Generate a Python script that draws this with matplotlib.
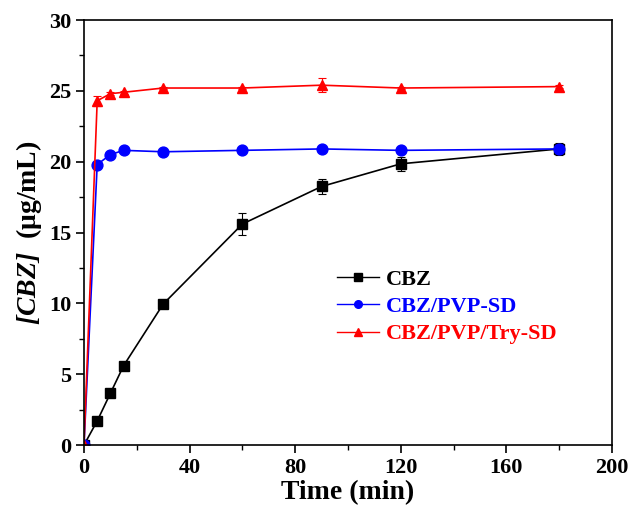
import matplotlib
matplotlib.use("Agg")
import matplotlib.pyplot as plt
from matplotlib.ticker import MultipleLocator
from matplotlib.lines import Line2D

plt.rcParams['font.family'] = ['Liberation Serif', 'DejaVu Serif']
plt.rcParams['font.weight'] = 'bold'
plt.rcParams['mathtext.fontset'] = 'custom'
plt.rcParams['mathtext.bf'] = 'Liberation Serif:bold:italic'
plt.rcParams['mathtext.rm'] = 'Liberation Serif:bold'

time = [0, 5, 10, 15, 30, 60, 90, 120, 180]
cbz = [0, 1.7, 3.65, 5.6, 9.95, 15.6, 18.25, 19.85, 20.9]
cbz_err = [0, 0.1, 0.1, 0.15, 0.15, 0.8, 0.5, 0.5, 0.4]
pvp = [0, 19.8, 20.5, 20.8, 20.7, 20.8, 20.9, 20.8, 20.9]
pvp_err = [0, 0.15, 0.1, 0.1, 0.1, 0.1, 0.1, 0.1, 0.3]
try_sd = [0, 24.3, 24.8, 24.9, 25.2, 25.2, 25.4, 25.2, 25.3]
try_err = [0, 0.35, 0.1, 0.1, 0.1, 0.1, 0.5, 0.1, 0.1]

labels = ['CBZ', 'CBZ/PVP-SD', 'CBZ/PVP/Try-SD']
colors = ['black', 'blue', 'red']
markers = ['s', 'o', '^']

fig = plt.figure(figsize=(6.33, 5.2), dpi=100)
ax = fig.add_axes([0.1327, 0.1442, 0.8341, 0.8173])

handles = []
for y, e, lab, c, m in zip([cbz, pvp, try_sd], [cbz_err, pvp_err, try_err], labels, colors, markers):
    ax.errorbar(time, y, yerr=e, color=c, marker=m, markersize=7.8, linewidth=1.2,
                capsize=3, elinewidth=0.8, capthick=0.8)
    handles.append(Line2D([], [], color=c, marker=m, markersize=5.5, linewidth=1.0, label=lab))

ax.set_xlim(0, 200)
ax.set_ylim(0, 30)
ax.xaxis.set_major_locator(MultipleLocator(40))
ax.xaxis.set_minor_locator(MultipleLocator(20))
ax.yaxis.set_major_locator(MultipleLocator(5))
ax.yaxis.set_minor_locator(MultipleLocator(2.5))
ax.tick_params(which='major', direction='out', length=6, width=1.2, labelsize=16, pad=3)
ax.tick_params(which='minor', direction='out', length=3.5, width=1.0)
for s in ax.spines.values():
    s.set_linewidth(1.2)
for t in ax.get_xticklabels() + ax.get_yticklabels():
    t.set_fontweight('bold')

ax.set_xlabel('Time (min)', fontsize=20, fontweight='bold', labelpad=2)
ax.set_ylabel(r'$\mathbf{[CBZ]}$  (μg/mL)', fontsize=20, fontweight='bold', labelpad=4)

leg = ax.legend(handles=handles, loc='upper left', bbox_to_anchor=(0.479, 0.413), frameon=False,
                fontsize=16, handlelength=1.9, handletextpad=0.3, labelspacing=0.3,
                borderpad=0, borderaxespad=0)
for txt, c in zip(leg.get_texts(), colors):
    txt.set_color(c)
    txt.set_fontweight('bold')

fig.savefig('out.png', dpi=100)
